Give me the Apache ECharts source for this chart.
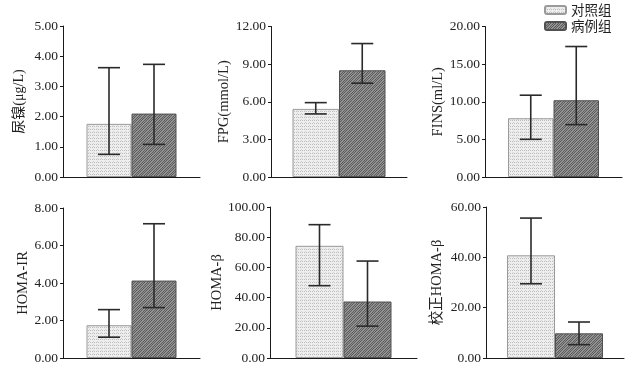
<!DOCTYPE html>
<html>
<head>
<meta charset="utf-8">
<script src="https://cdn.jsdelivr.net/npm/echarts@6/dist/echarts.min.js"></script>
<style>
  html, body { margin: 0; padding: 0; background: #fff; }
  #chart { width: 641px; height: 367px; }
</style>
</head>
<body>
<div id="chart"></div>
<script>
// panel names (y axis titles) and axis ranges
const panelNames = ['尿镍(μg/L)', 'FPG(mmol/L)', 'FINS(ml/L)', 'HOMA-IR', 'HOMA-β', '校正HOMA-β']
const yMax = [5, 12, 20, 8, 100, 60]
const yStep = [1, 3, 5, 2, 20, 20]
const groups = ['对照组', '病例组']

// control group: mean, error bar low / high
const controlMean = [1.76, 5.43, 7.81, 1.75, 74.3, 40.8]
const controlLow = [0.75, 5.03, 5.01, 1.11, 47.9, 29.5]
const controlHigh = [3.62, 5.93, 10.87, 2.58, 88.3, 55.6]
// case group
const caseMean = [2.10, 8.51, 10.2, 4.13, 37.4, 9.8]
const caseLow = [1.08, 7.48, 6.96, 2.69, 21.1, 5.3]
const caseHigh = [3.73, 10.64, 17.34, 7.16, 64.2, 14.3]

// layout of each small plot: left, top, width, height, bar width, name gap, name size
const boxes = [
  [63, 26, 137, 151, 45, 37, 14],
  [271, 26.5, 136, 150.5, 46.5, 38, 14.5],
  [485, 26.5, 137, 150.5, 45.5, 40, 14.5],
  [63, 208, 137, 150, 45, 31, 14.5],
  [270, 207, 147, 151, 48, 40, 14.5],
  [486, 207, 138, 151, 48, 42, 14.5],
]

function makePattern(kind) {
  let c = document.createElement('canvas')
  let ctx = c.getContext('2d')
  if (kind == 'dots') {
    c.width = 4
    c.height = 3
    ctx.fillStyle = '#eeeeee'
    ctx.fillRect(0, 0, 4, 3)
    ctx.fillStyle = '#bdbdbd'
    ctx.fillRect(0, 0, 1, 1)
    ctx.fillRect(2, 0, 1, 1)
    ctx.fillStyle = '#d4d4d4'
    ctx.fillRect(1, 2, 1, 1)
  } else {
    c.width = 5
    c.height = 5
    ctx.fillStyle = '#929292'
    ctx.fillRect(0, 0, 5, 5)
    ctx.fillStyle = '#5c5c5c'
    for (let i = 0; i < 5; i++) {
      ctx.fillRect(i, 4 - i, 1, 1)
      ctx.fillRect((i + 2) % 5, 4 - i, 1, 1)
    }
  }
  return { image: c, repeat: 'repeat' }
}

const fills = [makePattern('dots'), makePattern('hatch')]
const borders = ['#9a9a9a', '#505050']

let grid = [], xAxis = [], yAxis = [], series = []

boxes.forEach((b, i) => {
  grid.push({ left: b[0], top: b[1], width: b[2], height: b[3] })
  xAxis.push({
    type: 'category',
    gridIndex: i,
    data: [''],
    axisLine: { lineStyle: { color: '#1a1a1a', width: 1 } },
    axisTick: { show: false },
    axisLabel: { show: false },
  })
  yAxis.push({
    type: 'value',
    gridIndex: i,
    min: 0,
    max: yMax[i],
    interval: yStep[i],
    name: panelNames[i],
    nameLocation: 'middle',
    nameGap: b[5],
    nameTextStyle: {
      fontFamily: 'Liberation Serif, Noto Sans CJK SC',
      fontSize: b[6],
      color: '#222',
    },
    axisLine: { show: true, lineStyle: { color: '#1a1a1a', width: 1 } },
    axisTick: { show: true, length: 3, lineStyle: { color: '#1a1a1a' } },
    splitLine: { show: false },
    axisLabel: {
      margin: 5,
      fontFamily: 'Liberation Serif',
      fontSize: 13.5,
      color: '#222',
      formatter: (v) => v.toFixed(2),
    },
  })

  let means = [controlMean[i], caseMean[i]]
  let lows = [controlLow[i], caseLow[i]]
  let highs = [controlHigh[i], caseHigh[i]]
  groups.forEach((g, k) => {
    series.push({
      name: g,
      type: 'bar',
      xAxisIndex: i,
      yAxisIndex: i,
      barWidth: b[4],
      barGap: 0,
      itemStyle: { color: fills[k], borderColor: borders[k], borderWidth: 1 },
      data: [means[k]],
    })
  })
  groups.forEach((g, k) => {
    let offset = (k == 0 ? -1 : 1) * b[4] / 2
    series.push({
      name: g + '误差',
      type: 'custom',
      xAxisIndex: i,
      yAxisIndex: i,
      z: 10,
      data: [[0, lows[k], highs[k]]],
      renderItem: (params, api) => {
        let lo = api.coord([api.value(0), api.value(1)])
        let hi = api.coord([api.value(0), api.value(2)])
        let x = lo[0] + offset
        let half = 11
        let st = { stroke: '#2a2a2a', lineWidth: 1.6 }
        return {
          type: 'group',
          children: [
            { type: 'line', shape: { x1: x, y1: lo[1], x2: x, y2: hi[1] }, style: st },
            { type: 'line', shape: { x1: x - half, y1: hi[1], x2: x + half, y2: hi[1] }, style: st },
            { type: 'line', shape: { x1: x - half, y1: lo[1], x2: x + half, y2: lo[1] }, style: st },
          ],
        }
      },
    })
  })
})

let myChart = echarts.init(document.getElementById('chart'))
myChart.setOption({
  backgroundColor: '#fff',
  animation: false,
  legend: {
    data: groups,
    orient: 'vertical',
    left: 544,
    top: 3,
    padding: 0,
    itemWidth: 21,
    itemHeight: 8,
    itemGap: 2,
    textStyle: { fontFamily: 'Noto Sans CJK SC', fontSize: 13.5, color: '#222', lineHeight: 14 },
  },
  grid: grid,
  xAxis: xAxis,
  yAxis: yAxis,
  series: series,
})
</script>
</body>
</html>
